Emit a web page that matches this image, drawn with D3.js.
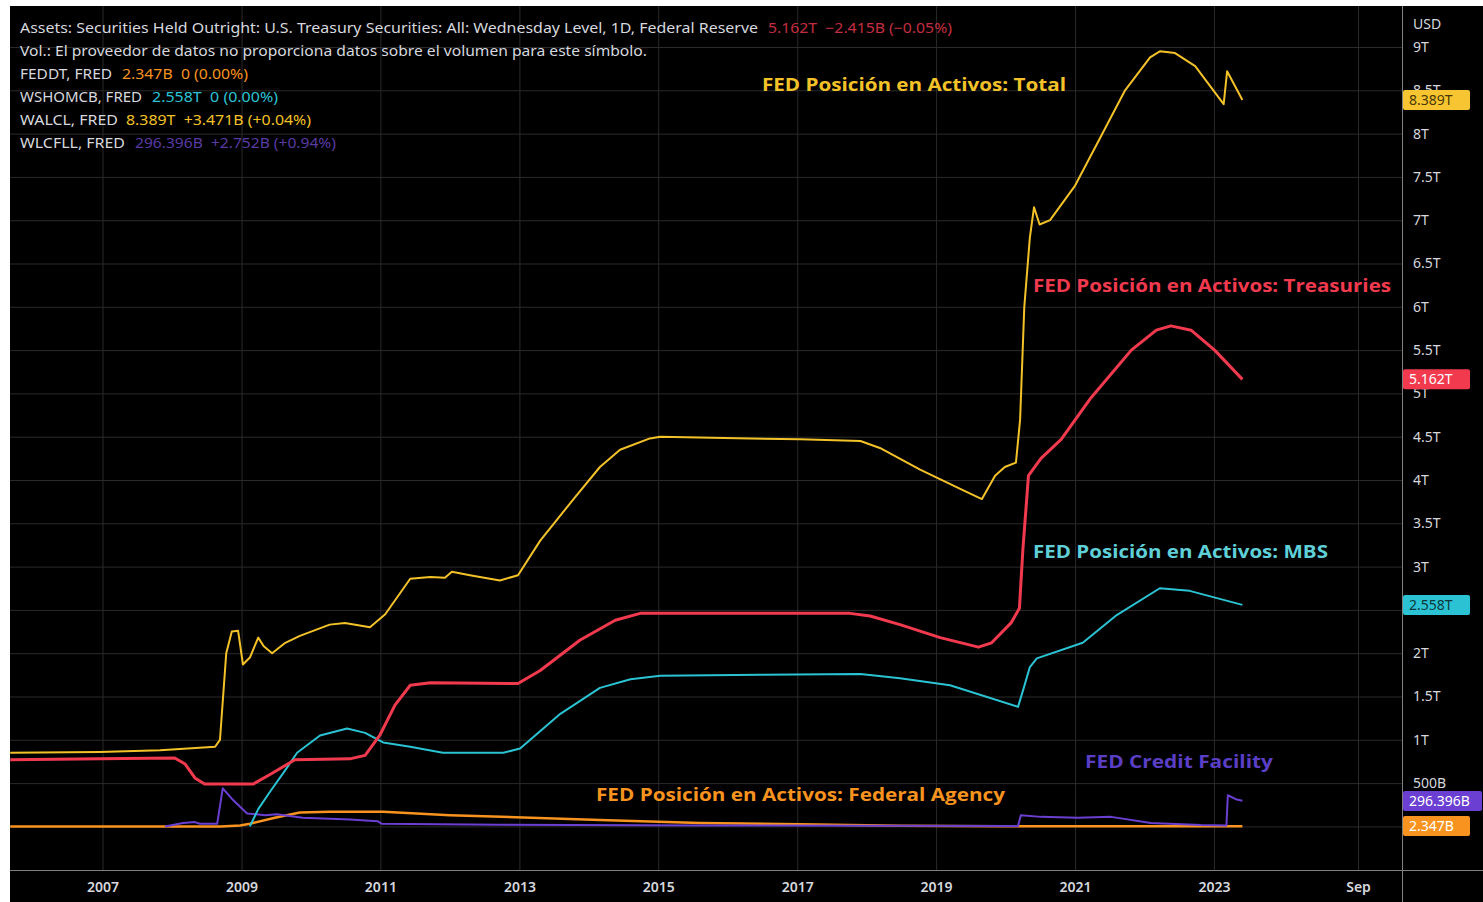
<!DOCTYPE html>
<html><head><meta charset="utf-8">
<script src="https://cdn.jsdelivr.net/npm/d3@7"></script>
<style>html,body{margin:0;padding:0;background:#fff;}svg{display:block;}</style>
</head><body>
<script>
// ---------- DATA (decimal years, values in trillions USD) ----------
const totalYears = [2005.67,2006.96,2007.83,2008.62,2008.69,2008.78,2008.86,2008.95,2009.02,2009.12,2009.24,2009.32,2009.44,2009.63,2009.84,2010.27,2010.49,2010.85,2011.07,2011.43,2011.72,2011.93,2012.03,2012.29,2012.72,2012.98,2013.30,2013.80,2014.16,2014.45,2014.88,2015.03,2016.32,2017.04,2017.91,2018.19,2018.77,2019.34,2019.66,2019.85,2019.99,2020.15,2020.21,2020.27,2020.35,2020.41,2020.49,2020.64,2021.00,2021.36,2021.72,2022.08,2022.22,2022.44,2022.73,2023.01,2023.14,2023.19,2023.41];
const totalValues = [0.85,0.86,0.88,0.92,1.0,2.0,2.25,2.26,1.87,1.95,2.18,2.08,2.0,2.12,2.2,2.33,2.35,2.3,2.45,2.86,2.88,2.87,2.94,2.9,2.84,2.9,3.3,3.8,4.15,4.35,4.48,4.5,4.48,4.47,4.45,4.37,4.12,3.9,3.78,4.05,4.15,4.2,4.7,6.0,6.8,7.15,6.95,7.0,7.4,7.95,8.5,8.88,8.95,8.93,8.78,8.48,8.34,8.72,8.389];

const treasYears = [2005.67,2006.96,2008.04,2008.19,2008.33,2008.47,2009.17,2009.41,2009.77,2010.56,2010.78,2010.99,2011.21,2011.43,2011.72,2012.98,2013.30,2013.87,2014.38,2014.74,2015.03,2017.76,2018.05,2018.48,2019.06,2019.61,2019.80,2020.08,2020.20,2020.25,2020.33,2020.51,2020.80,2021.23,2021.81,2022.17,2022.38,2022.67,2023.01,2023.41];
const treasValues = [0.77,0.78,0.79,0.72,0.56,0.49,0.49,0.6,0.77,0.78,0.82,1.05,1.4,1.63,1.66,1.65,1.8,2.15,2.38,2.46,2.46,2.46,2.43,2.33,2.18,2.07,2.12,2.35,2.52,3.2,4.05,4.25,4.47,4.95,5.5,5.73,5.78,5.73,5.5,5.162];

const mbsYears = [2009.12,2009.24,2009.41,2009.63,2009.80,2010.13,2010.52,2010.78,2011.04,2011.43,2011.90,2012.77,2013.01,2013.59,2014.16,2014.60,2015.03,2016.47,2017.91,2018.48,2019.20,2020.18,2020.27,2020.35,2020.45,2021.11,2021.60,2022.22,2022.65,2023.41];
const mbsValues = [0.0,0.2,0.4,0.65,0.85,1.05,1.13,1.08,0.97,0.92,0.85,0.85,0.9,1.3,1.6,1.7,1.74,1.75,1.76,1.71,1.63,1.38,1.62,1.84,1.94,2.12,2.44,2.75,2.72,2.558];

const agencyYears = [2005.67,2008.70,2008.98,2009.12,2009.48,2009.84,2010.27,2011.04,2012.00,2014.16,2015.60,2017.04,2018.48,2019.92,2023.41];
const agencyValues = [0.0,0.0,0.01,0.03,0.1,0.16,0.17,0.17,0.13,0.075,0.04,0.025,0.008,0.003,0.0023];

const creditYears = [2007.90,2008.16,2008.33,2008.40,2008.65,2008.73,2008.86,2009.08,2009.34,2009.51,2009.88,2010.56,2010.96,2011.02,2012.72,2015.60,2020.18,2020.22,2020.51,2021.04,2021.52,2022.09,2022.81,2023.18,2023.20,2023.33,2023.41];
const creditValues = [0.0,0.04,0.05,0.03,0.03,0.44,0.32,0.15,0.13,0.14,0.1,0.08,0.06,0.03,0.02,0.01,0.005,0.13,0.11,0.1,0.11,0.04,0.015,0.01,0.36,0.31,0.296];

const xTickYears = [2007,2009,2011,2013,2015,2017,2019,2021,2023,2025.073];
const xTickLabels = ["2007","2009","2011","2013","2015","2017","2019","2021","2023","Sep"];
const gridValues = [0,0.5,1,1.5,2,2.5,3,3.5,4,4.5,5,5.5,6,6.5,7,7.5,8,8.5,9];
const yTickValues = [0.5,1,1.5,2,3,3.5,4,4.5,5,5.5,6,6.5,7,7.5,8,8.5,9];
const yTickLabels = ["500B","1T","1.5T","2T","3T","3.5T","4T","4.5T","5T","5.5T","6T","6.5T","7T","7.5T","8T","8.5T","9T"];

const legendLines = [
  {label:"Assets: Securities Held Outright: U.S. Treasury Securities: All: Wednesday Level, 1D, Federal Reserve", value:"5.162T  \u22122.415B (\u22120.05%)"},
  {label:"Vol.: El proveedor de datos no proporciona datos sobre el volumen para este símbolo.", value:""},
  {label:"FEDDT, FRED", value:"2.347B  0 (0.00%)"},
  {label:"WSHOMCB, FRED", value:"2.558T  0 (0.00%)"},
  {label:"WALCL, FRED", value:"8.389T  +3.471B (+0.04%)"},
  {label:"WLCFLL, FRED", value:"296.396B  +2.752B (+0.94%)"}
];

// ---------- helpers ----------
function yd(t){const Y=Math.floor(t);const s=Date.UTC(Y,0,1),e=Date.UTC(Y+1,0,1);return new Date(s+(t-Y)*(e-s));}
const W=1483,H=902;
const plotL=10, plotT=6, plotR=1402, plotB=870;
const x=d3.scaleUtc().domain([yd(2005.667),yd(2025.7065)]).range([plotL,plotR]);
const y=d3.scaleLinear().domain([0,9]).range([826.4,47]);

const COL={total:"#f3c228",treas:"#f23a4f",mbs:"#2bc3d3",agency:"#f7931e",credit:"#6a3fd1",text:"#d6d8de",grid:"#2a2a2a",sep:"#808080"};

const svg=d3.select("body").append("svg").attr("width",W).attr("height",H);
svg.append("rect").attr("width",W).attr("height",H).attr("fill","#fff");
svg.append("rect").attr("x",plotL).attr("y",plotT).attr("width",W-plotL).attr("height",H-plotT).attr("fill","#000");

// gridlines
const gy=svg.append("g").attr("transform",`translate(${plotR},0)`)
  .call(d3.axisLeft(y).tickValues(gridValues).tickSize(plotR-plotL).tickFormat(""));
gy.select(".domain").remove();
gy.selectAll("line").attr("stroke",COL.grid);
const gx=svg.append("g").attr("transform",`translate(0,${plotB})`)
  .call(d3.axisTop(x).tickValues(xTickYears.map(yd)).tickSize(plotB-plotT).tickFormat(""));
gx.select(".domain").remove();
gx.selectAll("line").attr("stroke",COL.grid);

// clip
svg.append("clipPath").attr("id","clip").append("rect").attr("x",plotL).attr("y",plotT).attr("width",plotR-plotL).attr("height",plotB-plotT);
const plot=svg.append("g").attr("clip-path","url(#clip)");

const line=d3.line().x(d=>x(yd(d[0]))).y(d=>y(d[1]));
function series(yrs,vals,color,w){
  plot.append("path").datum(yrs.map((t,i)=>[t,vals[i]])).attr("d",line)
    .attr("fill","none").attr("stroke",color).attr("stroke-width",w).attr("stroke-linejoin","round");
}
series(agencyYears,agencyValues,COL.agency,2.5);
series(creditYears,creditValues,COL.credit,2);
series(mbsYears,mbsValues,COL.mbs,2);
series(treasYears,treasValues,COL.treas,3);
series(totalYears,totalValues,COL.total,2);

// annotations
const ann=[
  {t:"FED Posición en Activos: Total",x:762,y:85,w:304,c:COL.total},
  {t:"FED Posición en Activos: Treasuries",x:1033,y:286,w:358,c:COL.treas},
  {t:"FED Posición en Activos: MBS",x:1033,y:552,w:295,c:"#5fd0d8"},
  {t:"FED Credit Facility",x:1085,y:762,w:188,c:"#5a3fc6"},
  {t:"FED Posición en Activos: Federal Agency",x:596,y:795,w:409,c:COL.agency}
];
ann.forEach(a=>{
  svg.append("text").attr("x",a.x).attr("y",a.y).attr("dy","0.35em").text(a.t)
    .attr("fill",a.c).attr("font-family","'Open Sans',sans-serif").attr("font-weight","bold").attr("font-size",18)
    .attr("textLength",a.w).attr("lengthAdjust","spacingAndGlyphs");
});

// legend
const legendColors=[COL.treas,null,COL.agency,COL.mbs,COL.total,"#6f49c9"];
const legendLabelW=[738,627,92,122,98,105];
const legendValX=[768,null,122,152,126,135];
const legendValW=[184,null,126,126,185,201];
legendLines.forEach((l,i)=>{
  const yy=28+i*23;
  svg.append("text").attr("x",20).attr("y",yy).attr("dy","0.35em").text(l.label)
    .attr("fill",COL.text).attr("font-family","'Noto Sans',sans-serif").attr("font-size",14)
    .attr("textLength",legendLabelW[i]).attr("lengthAdjust","spacingAndGlyphs");
  if(l.value){
    svg.append("text").attr("x",legendValX[i]).attr("y",yy).attr("dy","0.35em").text(l.value)
      .attr("fill",legendColors[i]).attr("opacity",i===0||i===5?0.8:1).attr("font-family","'Noto Sans',sans-serif").attr("font-size",14)
      .attr("textLength",legendValW[i]).attr("lengthAdjust","spacingAndGlyphs").style("white-space","pre");
  }
});

// right axis
const ya=svg.append("g").attr("transform",`translate(${plotR},0)`)
  .call(d3.axisRight(y).tickValues(yTickValues).tickSize(0).tickPadding(11).tickFormat((d,i)=>yTickLabels[i]));
ya.select(".domain").remove();
ya.selectAll("text").attr("fill",COL.text).attr("font-family","'Noto Sans',sans-serif").attr("font-size",14);
svg.append("text").attr("x",1413).attr("y",24).attr("dy","0.35em").text("USD")
  .attr("fill",COL.text).attr("font-family","'Noto Sans',sans-serif").attr("font-size",14);

// bottom axis
const xa=svg.append("g").attr("transform",`translate(0,${plotB})`)
  .call(d3.axisBottom(x).tickValues(xTickYears.map(yd)).tickSize(0).tickPadding(12).tickFormat((d,i)=>xTickLabels[i]));
xa.select(".domain").remove();
xa.selectAll("text").attr("fill",COL.text).attr("font-family","'Noto Sans',sans-serif").attr("font-size",14).attr("font-weight",600);

// separators
svg.append("line").attr("x1",plotL).attr("x2",W).attr("y1",plotB+0.5).attr("y2",plotB+0.5).attr("stroke",COL.sep);
svg.append("line").attr("x1",plotR+0.5).attr("x2",plotR+0.5).attr("y1",plotT).attr("y2",H).attr("stroke",COL.sep);

// price labels
const priceLabels=[
  {v:8.389,t:"8.389T",bg:"#f6c531",fg:"#4a3800",w:67},
  {v:5.162,t:"5.162T",bg:"#f23a4f",fg:"#ffffff",w:67},
  {v:2.558,t:"2.558T",bg:"#2bc3d3",fg:"#0b3a40",w:67},
  {v:0.296396,t:"296.396B",bg:"#6a3fd1",fg:"#ffffff",w:79},
  {v:0.002347,t:"2.347B",bg:"#f7931e",fg:"#ffffff",w:67}
];
priceLabels.forEach((p,i)=>{
  let cy=y(p.v);
  if(i===3) cy=801; if(i===4) cy=826;
  svg.append("rect").attr("x",plotR+1).attr("y",cy-10).attr("width",p.w).attr("height",20).attr("rx",2).attr("fill",p.bg);
  svg.append("text").attr("x",plotR+7).attr("y",cy).attr("dy","0.35em").text(p.t)
    .attr("fill",p.fg).attr("font-family","'Noto Sans',sans-serif").attr("font-size",14);
});
</script>
</body></html>
